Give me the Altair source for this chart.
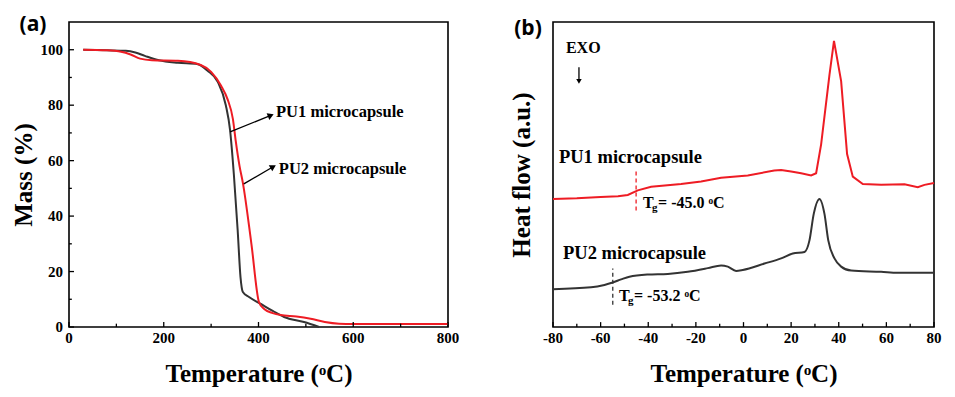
import altair as alt
import pandas as pd

# ---------------- Panel (a): TGA ----------------
a_pu1_T = [30, 80, 120, 140, 160, 190, 230, 272, 292, 314, 331, 340, 348, 356, 362, 367, 380, 405, 430, 454, 496, 528]
a_pu1_M = [100, 99.8, 99.6, 99.0, 97.8, 96.2, 95.3, 94.8, 92.5, 88.4, 80, 71, 55, 35, 18, 12.6, 10.8, 8.3, 5.8, 3.6, 1.8, 0]
a_pu2_T = [30, 80, 110, 130, 150, 175, 230, 278, 300, 321, 335, 346, 352, 360, 367, 385, 401, 412, 430, 447, 480, 510, 540, 570, 600, 800]
a_pu2_M = [100, 99.8, 99.3, 98.3, 96.8, 96.2, 96.0, 94.5, 92.0, 87.0, 82.0, 75, 67, 58, 52, 30, 9, 6.5, 5.0, 4.3, 3.8, 3.0, 1.8, 1.2, 1.1, 1.1]
a_xticks_major = [0, 200, 400, 600, 800]
a_xticks_minor = [100, 300, 500, 700]
a_yticks_major = [0, 20, 40, 60, 80, 100]
a_yticks_minor = [10, 30, 50, 70, 90]

# ---------------- Panel (b): DSC ----------------
b_pu1_T = [-80, -70, -60, -52.7, -48.6, -44.4, -38.8, -26.2, -17.8, -9.4, 1.8, 12.9, 15.8, 20, 24.2, 28.4, 30.5, 32.6, 36.1, 38, 41, 43.5, 45.9, 50.1, 57.8, 67.6, 73.2, 76, 80]
b_pu1_V = [42, 42.2, 42.6, 42.9, 43.3, 44.8, 46, 46.9, 47.7, 48.9, 49.7, 51.3, 51.5, 51, 50.4, 49.7, 50.4, 59.9, 82.7, 93.8, 80.6, 56.7, 49.3, 46.9, 46.6, 46.8, 45.8, 46.6, 47.2]
b_pu2_T = [-80, -64, -58.4, -54.9, -51.4, -47.9, -40.2, -31.8, -23.4, -15, -9.4, -6.6, -3.1, -0.3, 8.8, 15.8, 20.7, 25.6, 27.7, 29.5, 31.9, 34, 35.6, 38.2, 41, 45.2, 57.8, 64.8, 80]
b_pu2_V = [12.4, 13, 13.8, 14.6, 15.6, 16.5, 17.2, 17.4, 18.1, 19.3, 20.2, 19.8, 18.4, 18.7, 20.8, 22.5, 24.1, 24.6, 28.4, 37.1, 42, 37.1, 28.4, 22.5, 19.8, 18.5, 18.1, 17.8, 17.8]
b_xticks_major = [-80, -60, -40, -20, 0, 20, 40, 60, 80]
b_xticks_minor = [-70, -50, -30, -10, 10, 30, 50, 70]

series_names = ["PU1 microcapsule", "PU2 microcapsule"]
colors = ["#333333", "#ee1c24"]
SERIF = "Liberation Serif"
TICKFS = 15

AX = dict(labels=False, ticks=False, domain=False, grid=False,
          titleFont=SERIF, titleFontWeight="bold", titleFontSize=25, titleColor="black")

def txt(**kw):
    base = dict(font=SERIF, fontWeight="bold", color="black")
    base.update(kw)
    return base

# ---------- panel a ----------
df_a = pd.concat([
    pd.DataFrame({"T": a_pu1_T, "M": a_pu1_M, "s": series_names[0], "o": range(len(a_pu1_T))}),
    pd.DataFrame({"T": a_pu2_T, "M": a_pu2_M, "s": series_names[1], "o": range(len(a_pu2_T))}),
])

sxa = alt.Scale(domain=[0, 800], nice=False, zero=False)
sya = alt.Scale(domain=[0, 110], nice=False, zero=False)
xa = alt.X("T:Q", scale=sxa, axis=alt.Axis(title="Temperature (ᵒC)", titlePadding=34, **AX))
ya = alt.Y("M:Q", scale=sya, axis=alt.Axis(title="Mass (%)", titlePadding=33, **AX))

lines_a = alt.Chart(df_a).mark_line(strokeWidth=2, interpolate="monotone").encode(
    x=xa, y=ya,
    color=alt.Color("s:N", scale=alt.Scale(domain=series_names, range=colors), legend=None),
    order="o:Q",
)

xt_a = pd.DataFrame({"T": a_xticks_major + a_xticks_minor,
                     "M": [0] * 9,
                     "M2": [1.8] * 5 + [1.2] * 4})
xtick_a = alt.Chart(xt_a).mark_rule(color="black", strokeWidth=1.3).encode(x=xa, y=ya, y2="M2:Q")
yt_a = pd.DataFrame({"M": a_yticks_major + a_yticks_minor,
                     "T": [0] * 11,
                     "T2": [10.5] * 6 + [6] * 5})
ytick_a = alt.Chart(yt_a).mark_rule(color="black", strokeWidth=1.3).encode(y=ya, x=xa, x2="T2:Q")

xl_a = pd.DataFrame({"T": a_xticks_major, "M": [0] * len(a_xticks_major),
                     "lab": [str(v) for v in a_xticks_major]})
xlab_a = alt.Chart(xl_a).mark_text(**txt(fontSize=TICKFS, align="center", baseline="top", dy=4)).encode(
    x=xa, y=ya, text="lab:N")
yl_a = pd.DataFrame({"M": a_yticks_major, "T": [0] * len(a_yticks_major),
                     "lab": [str(v) for v in a_yticks_major]})
ylab_a = alt.Chart(yl_a).mark_text(**txt(fontSize=TICKFS, align="right", baseline="middle", dx=-6)).encode(
    x=xa, y=ya, text="lab:N")

lab_a = pd.DataFrame({"T": [437, 443], "M": [77.4, 57.0], "label": series_names})
text_a = alt.Chart(lab_a).mark_text(**txt(fontSize=16.5, align="left", baseline="middle")).encode(
    x=xa, y=ya, text="label:N")
arr_a = pd.DataFrame({"T": [340, 369], "M": [70.4, 51.6], "T2": [426, 431], "M2": [76.3, 57.8],
                      "ang": [337.5, 330]})
arrline_a = alt.Chart(arr_a).mark_rule(color="black", strokeWidth=1.3).encode(x=xa, y=ya, x2="T2:Q", y2="M2:Q")
arrhead_a = alt.Chart(arr_a).mark_point(shape="triangle-right", filled=True, size=50, color="black",
                                        opacity=1).encode(
    x=alt.X("T2:Q", scale=sxa), y=alt.Y("M2:Q", scale=sya),
    angle=alt.Angle("ang:Q", scale=None))

pl_a = pd.DataFrame({"T": [-76], "M": [108.8], "label": ["(a)"]})
plabel_a = alt.Chart(pl_a).mark_text(font="Open Sans", fontWeight="bold", fontSize=21, align="center",
                                     baseline="middle", color="black").encode(x=xa, y=ya, text="label:N")

panel_a = alt.layer(lines_a, xtick_a, ytick_a, xlab_a, ylab_a, arrline_a, arrhead_a, text_a,
                    plabel_a).properties(width=379, height=305)

# ---------- panel b ----------
df_b1 = pd.DataFrame({"T": b_pu1_T, "V": b_pu1_V})
df_b2 = pd.DataFrame({"T": b_pu2_T, "V": b_pu2_V})

sxb = alt.Scale(domain=[-80, 80], nice=False, zero=False)
syb = alt.Scale(domain=[0, 100], nice=False, zero=False)
xb = alt.X("T:Q", scale=sxb, axis=alt.Axis(title="Temperature (ᵒC)", titlePadding=34, **AX))
yb = alt.Y("V:Q", scale=syb, axis=alt.Axis(title="Heat flow (a.u.)", titlePadding=19, **AX))

line_b2 = alt.Chart(df_b2).mark_line(strokeWidth=2, color=colors[0], interpolate="monotone").encode(x=xb, y=yb)
line_b1 = alt.Chart(df_b1).mark_line(strokeWidth=2, color=colors[1]).encode(x=xb, y=yb)

xt_b = pd.DataFrame({"T": b_xticks_major + b_xticks_minor,
                     "V": [0] * 17,
                     "V2": [1.6] * 9 + [1.1] * 8})
xtick_b = alt.Chart(xt_b).mark_rule(color="black", strokeWidth=1.3).encode(x=xb, y=yb, y2="V2:Q")
xl_b = pd.DataFrame({"T": b_xticks_major, "V": [0] * len(b_xticks_major),
                     "lab": [str(v) for v in b_xticks_major]})
xlab_b = alt.Chart(xl_b).mark_text(**txt(fontSize=TICKFS, align="center", baseline="top", dy=4)).encode(
    x=xb, y=yb, text="lab:N")

tg_lines = pd.DataFrame({"T": [-45.1, -54.9], "V": [38.2, 7.3], "V2": [51.2, 19.2], "c": colors[::-1]})
tgrule_b = alt.Chart(tg_lines).mark_rule(strokeWidth=1.3, strokeDash=[4, 3]).encode(
    x=xb, y=yb, y2="V2:Q", color=alt.Color("c:N", scale=None))

lab_b = pd.DataFrame({"T": [-77.5, -75.8], "V": [55.8, 24.2], "label": series_names})
text_b = alt.Chart(lab_b).mark_text(**txt(fontSize=18.5, align="left", baseline="middle")).encode(
    x=xb, y=yb, text="label:N")

tg = pd.DataFrame({"T": [-42.2, -52.3], "V": [40.8, 10.2], "rest": ["= -45.0 ᵒC", "= -53.2 ᵒC"]})
tg_T = alt.Chart(tg).mark_text(**txt(fontSize=16, align="left", baseline="middle", text="T")).encode(x=xb, y=yb)
tg_g = alt.Chart(tg).mark_text(**txt(fontSize=11, align="left", baseline="middle", text="g", dx=9, dy=5)).encode(
    x=xb, y=yb)
tg_r = alt.Chart(tg).mark_text(**txt(fontSize=16, align="left", baseline="middle", dx=15)).encode(
    x=xb, y=yb, text="rest:N")

exo = pd.DataFrame({"T": [-67.3], "V": [91.5], "label": ["EXO"], "Ta": [-69.1], "Va": [85.2], "Vb": [80.5]})
exo_text = alt.Chart(exo).mark_text(**txt(fontSize=16, align="center", baseline="middle")).encode(
    x=xb, y=yb, text="label:N")
exo_line = alt.Chart(exo).mark_rule(color="black", strokeWidth=1.3).encode(
    x=alt.X("Ta:Q", scale=sxb), y=alt.Y("Va:Q", scale=syb), y2="Vb:Q")
exo_head = alt.Chart(exo).mark_point(shape="triangle-down", filled=True, size=30, color="black",
                                     opacity=1).encode(x=alt.X("Ta:Q", scale=sxb), y=alt.Y("Vb:Q", scale=syb))

pl_b = pd.DataFrame({"T": [-90.5], "V": [97.8], "label": ["(b)"]})
plabel_b = alt.Chart(pl_b).mark_text(font="Open Sans", fontWeight="bold", fontSize=21, align="center",
                                     baseline="middle", color="black").encode(x=xb, y=yb, text="label:N")

panel_b = alt.layer(line_b2, line_b1, xtick_b, xlab_b, tgrule_b, text_b, tg_T, tg_g, tg_r,
                    exo_line, exo_head, exo_text, plabel_b).properties(width=381, height=305)

chart = alt.hconcat(panel_a, panel_b, spacing=47).properties(
    padding={"left": 2, "top": 5, "right": 1, "bottom": 2}
).configure_view(stroke="black", strokeWidth=1.6)

chart.save("out.html", embed_options={"renderer": "svg", "actions": False})
